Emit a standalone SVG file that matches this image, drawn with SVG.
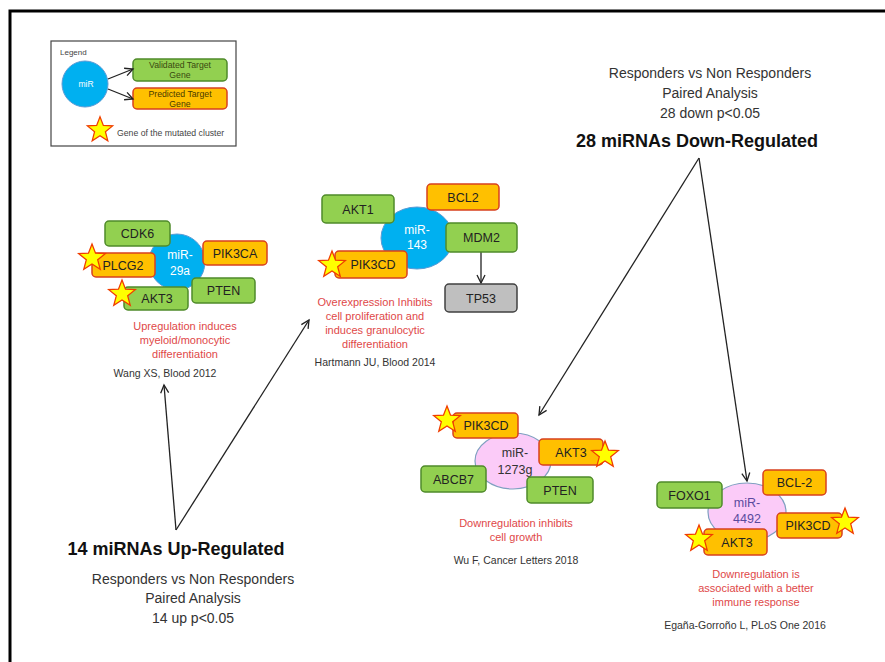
<svg xmlns="http://www.w3.org/2000/svg" width="885" height="662" viewBox="0 0 885 662">
<style>
text{font-family:"Liberation Sans",Arial,sans-serif;}
.frame{fill:none;stroke:#000;stroke-width:3}
.g{fill:#92D050;stroke:#4F8A2A;stroke-width:1.5}
.o{fill:#FFC000;stroke:#D8401E;stroke-width:1.5}
.gray{fill:#BFBFBF;stroke:#404040;stroke-width:1.5}
.blue{fill:#00B0F0;stroke:#5B9BD5;stroke-width:1}
.pink{fill:#FBCBF8;stroke:#7F9FC0;stroke-width:1.2}
.lbl{font-size:12.5px;fill:#222;text-anchor:middle}
.mir{font-size:12px;fill:#fff;text-anchor:middle}
.mirp{font-size:12.5px;fill:#333;text-anchor:middle}
.red{font-size:11px;fill:#E04848;text-anchor:middle}
.ref{font-size:10.5px;fill:#333;text-anchor:middle}
.info{font-size:14px;fill:#333;text-anchor:middle}
.big{font-size:18px;font-weight:bold;fill:#111;text-anchor:middle}
.conn{fill:none;stroke:#222;stroke-width:1.3}
.star{fill:#FFFF00;stroke:#F03C00;stroke-width:1.3}
.leg{font-size:8.7px;fill:#444}
</style>
<defs>
<marker id="ah" markerUnits="userSpaceOnUse" markerWidth="12" markerHeight="12" refX="9" refY="5" orient="auto">
<path d="M1,1 L9,5 L1,9" fill="none" stroke="#222" stroke-width="1.3"/>
</marker>
<polygon id="star" points="0,-14 3.53,-4.85 13.31,-4.33 5.71,1.85 8.23,11.33 0,6 -8.23,11.33 -5.71,1.85 -13.31,-4.33 -3.53,-4.85"/>
</defs>

<rect class="frame" x="10" y="11" width="900" height="700"/>

<g id="legend">
<rect x="51" y="41" width="185" height="105" fill="#fff" stroke="#444" stroke-width="1.2"/>
<text x="60" y="55" class="leg" style="font-size:8px">Legend</text>
<circle cx="85" cy="84" r="23" class="blue"/>
<text x="86" y="87" style="font-size:8.5px;fill:#fff;text-anchor:middle">miR</text>
<rect x="133" y="59" width="94" height="22" rx="4" class="g"/>
<text x="180" y="68" class="leg" style="text-anchor:middle;fill:#3a4a10">Validated Target</text>
<text x="180" y="78" class="leg" style="text-anchor:middle;fill:#3a4a10">Gene</text>
<rect x="133" y="88" width="94" height="21" rx="4" class="o"/>
<text x="180" y="97" class="leg" style="text-anchor:middle;fill:#4a3a00">Predicted Target</text>
<text x="180" y="107" class="leg" style="text-anchor:middle;fill:#4a3a00">Gene</text>
<use href="#star" class="star" transform="translate(100,130) scale(0.95)"/>
<text x="117" y="136" class="leg">Gene of the mutated cluster</text>
<path class="conn" d="M108,79 L133,69" marker-end="url(#ah)"/>
<path class="conn" d="M108,89 L133,99" marker-end="url(#ah)"/>
</g>

<g id="connectors">
<path class="conn" d="M176,530 L164,385" marker-end="url(#ah)"/>
<path class="conn" d="M176,530 L309,320" marker-end="url(#ah)"/>
<path class="conn" d="M699,158 L539,415" marker-end="url(#ah)"/>
<path class="conn" d="M699,158 L747,481" marker-end="url(#ah)"/>
<path class="conn" d="M481,252 L481,283" marker-end="url(#ah)"/>
</g>

<g id="cluster-miR-29a">
<circle cx="177" cy="262" r="28" class="blue"/>
<text x="180" y="259" class="mir">miR-</text>
<text x="180" y="275" class="mir">29a</text>
<rect x="105" y="221" width="65" height="25" rx="4" class="g"/><text x="137.5" y="238" class="lbl">CDK6</text>
<rect x="203" y="241" width="64" height="24" rx="4" class="o"/><text x="235" y="257.5" class="lbl">PIK3CA</text>
<rect x="92" y="253" width="63" height="24" rx="4" class="o"/><text x="123" y="269.5" class="lbl">PLCG2</text>
<rect x="192" y="278" width="63" height="25" rx="4" class="g"/><text x="223.5" y="295" class="lbl">PTEN</text>
<rect x="124" y="287" width="64" height="23" rx="4" class="g"/><text x="157" y="303" class="lbl">AKT3</text>
<use href="#star" class="star" transform="translate(92,258)"/>
<use href="#star" class="star" transform="translate(122,294)"/>
<text x="185" y="330" class="red">Upregulation induces</text>
<text x="185" y="344" class="red">myeloid/monocytic</text>
<text x="185" y="358" class="red">differentiation</text>
<text x="165" y="377" class="ref">Wang XS, Blood 2012</text>
</g>

<g id="cluster-miR-143">
<ellipse cx="417" cy="238" rx="36" ry="31" class="blue"/>
<text x="417" y="234" class="mir">miR-</text>
<text x="417" y="249" class="mir">143</text>
<rect x="322" y="195" width="72" height="28" rx="4" class="g"/><text x="358" y="213.5" class="lbl">AKT1</text>
<rect x="427" y="184" width="72" height="26" rx="4" class="o"/><text x="463" y="201.5" class="lbl">BCL2</text>
<rect x="446" y="223" width="71" height="29" rx="4" class="g"/><text x="481.5" y="242" class="lbl">MDM2</text>
<rect x="335" y="251" width="72" height="27" rx="4" class="o"/><text x="373" y="269" class="lbl">PIK3CD</text>
<use href="#star" class="star" transform="translate(332,265)"/>
<text x="375" y="306" class="red">Overexpression Inhibits</text>
<text x="375" y="320" class="red">cell proliferation and</text>
<text x="375" y="334" class="red">induces granulocytic</text>
<text x="375" y="348" class="red">differentiation</text>
<text x="375" y="366" class="ref">Hartmann JU, Blood 2014</text>
</g>

<g id="node-TP53">
<rect x="445" y="284" width="72" height="28" rx="4" class="gray"/><text x="481" y="302.5" class="lbl">TP53</text>
</g>

<g id="cluster-miR-1273g">
<ellipse cx="513" cy="461" rx="38" ry="28" class="pink"/>
<text x="515" y="457" class="mirp">miR-</text>
<text x="515" y="474" class="mirp">1273g</text>
<rect x="453" y="413" width="65" height="25" rx="4" class="o"/><text x="486" y="430" class="lbl">PIK3CD</text>
<rect x="539" y="439" width="64" height="26" rx="4" class="o"/><text x="571" y="456.5" class="lbl">AKT3</text>
<rect x="421" y="466" width="65" height="26" rx="4" class="g"/><text x="453.5" y="483.5" class="lbl">ABCB7</text>
<rect x="527" y="477" width="66" height="26" rx="4" class="g"/><text x="560" y="494.5" class="lbl">PTEN</text>
<use href="#star" class="star" transform="translate(447,420)"/>
<use href="#star" class="star" transform="translate(605,455)"/>
<text x="516" y="527" class="red">Downregulation inhibits</text>
<text x="516" y="541" class="red">cell growth</text>
<text x="516" y="564" class="ref">Wu F, Cancer Letters 2018</text>
</g>

<g id="cluster-miR-4492">
<ellipse cx="747" cy="512" rx="39" ry="29" class="pink"/>
<text x="747" y="507" class="mirp" style="fill:#5A4A9E">miR-</text>
<text x="747" y="523" class="mirp" style="fill:#5A4A9E">4492</text>
<rect x="657" y="482" width="65" height="26" rx="4" class="g"/><text x="689.5" y="499.5" class="lbl">FOXO1</text>
<rect x="763" y="470" width="63" height="25" rx="4" class="o"/><text x="794.5" y="487" class="lbl">BCL-2</text>
<rect x="777" y="513" width="65" height="25" rx="4" class="o"/><text x="808" y="530" class="lbl">PIK3CD</text>
<rect x="704" y="529" width="63" height="26" rx="4" class="o"/><text x="737" y="546.5" class="lbl">AKT3</text>
<use href="#star" class="star" transform="translate(845,522)"/>
<use href="#star" class="star" transform="translate(699,539)"/>
<text x="756" y="578" class="red">Downregulation is</text>
<text x="756" y="592" class="red">associated with a better</text>
<text x="756" y="606" class="red">immune response</text>
<text x="745" y="629" class="ref">Egaña-Gorroño L, PLoS One 2016</text>
</g>

<g id="header-down">
<text x="710" y="78" class="info">Responders vs Non Responders</text>
<text x="710" y="98" class="info">Paired Analysis</text>
<text x="710" y="118" class="info">28 down p&lt;0.05</text>
<text x="697" y="147" class="big">28 miRNAs Down-Regulated</text>
</g>

<g id="header-up">
<text x="176" y="555" class="big">14 miRNAs Up-Regulated</text>
<text x="193" y="584" class="info">Responders vs Non Responders</text>
<text x="193" y="603" class="info">Paired Analysis</text>
<text x="193" y="623" class="info">14 up p&lt;0.05</text>
</g>
</svg>
